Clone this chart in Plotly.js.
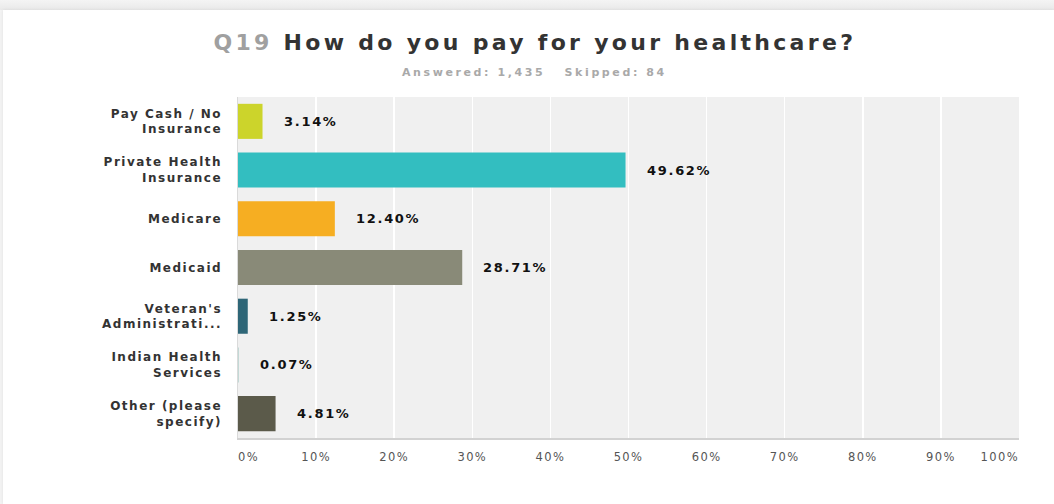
<!DOCTYPE html>
<html>
<head>
<meta charset="utf-8">
<script src="https://cdn.plot.ly/plotly-3.0.1.min.js"></script>
<style>
  html, body { margin: 0; padding: 0; }
  body { width: 1054px; height: 504px; background: linear-gradient(#f4f4f4, #e9e9e9 10px, #f3f3f3 10px); position: relative; overflow: hidden; }
  #card { position: absolute; left: 3px; top: 10px; width: 1051px; height: 494px; background: #fff; box-shadow: 0 0 3px rgba(0,0,0,0.08); }
  #chart { width: 1051px; height: 494px; }
  .ytick text { letter-spacing: 1.5px; }
  .xtick text, .x2tick text, .x3tick text { letter-spacing: 1.4px; }
  .gtitle { letter-spacing: 3.3px; }
  .annotation-text { letter-spacing: 1.7px; }
</style>
</head>
<body>
<div id="card"><div id="chart"></div></div>
<script>
const categories = [
  "Pay Cash / No<br>Insurance",
  "Private Health<br>Insurance",
  "Medicare",
  "Medicaid",
  "Veteran's<br>Administrati...",
  "Indian Health<br>Services",
  "Other (please<br>specify)"
];
const percentages = [3.14, 49.62, 12.40, 28.71, 1.25, 0.07, 4.81];
const barColors = ["#ccd42b", "#33bec0", "#f6ae22", "#898a78", "#2e6677", "#9fc6c0", "#5b5a4a"];
const innerTickValues = [10, 20, 30, 40, 50, 60, 70, 80, 90];
const innerTickLabels = ["10%", "20%", "30%", "40%", "50%", "60%", "70%", "80%", "90%"];
const firstTickValue = [0];
const firstTickLabel = ["0%"];
const lastTickValue = [100];
const lastTickLabel = ["100%"];
const titleQ = "Q19";
const titleText = "How do you pay for your healthcare?";
const subtitleText = "Answered: 1,435\u00a0\u00a0\u00a0Skipped: 84";

const trace = {
  type: "bar",
  orientation: "h",
  y: categories,
  x: percentages,
  marker: { color: barColors, line: { width: 0 } },
  hoverinfo: "none"
};
// empty helper traces so the overlaid end-tick axes are drawn
const helperA = { type: "scatter", mode: "markers", x: [], y: [], xaxis: "x2", yaxis: "y", hoverinfo: "none" };
const helperB = { type: "scatter", mode: "markers", x: [], y: [], xaxis: "x3", yaxis: "y", hoverinfo: "none" };

const annotations = percentages.map((v, i) => ({
  x: v, y: categories[i], xref: "x", yref: "y",
  text: v.toFixed(2) + "%",
  showarrow: false, xanchor: "left", yanchor: "middle", xshift: 19,
  font: { family: "DejaVu Sans", size: 13, color: "#111", weight: "bold" }
}));
annotations.push({
  xref: "paper", yref: "paper", x: 0.38, y: 1.073,
  text: "<span style='letter-spacing:2.6px'>" + subtitleText + "</span>",
  showarrow: false, xanchor: "center", yanchor: "middle",
  font: { family: "DejaVu Sans", size: 11, color: "#a9a9a9", weight: "bold" }
});

const tickFont = { family: "DejaVu Sans", size: 11.5, color: "#555555" };
const extraAxis = (vals, labels, pos) => ({
  overlaying: "x", anchor: "y", side: "bottom", range: [0, 100], fixedrange: true,
  tickvals: vals, ticktext: labels, ticklabelposition: pos,
  showgrid: false, zeroline: false, showline: false,
  ticks: "", ticklabelstandoff: 10, tickfont: tickFont
});

const layout = {
  width: 1051, height: 494,
  margin: { l: 235, r: 35, t: 87, b: 66 },
  paper_bgcolor: "#ffffff",
  plot_bgcolor: "#f0f0f0",
  showlegend: false,
  bargap: 0.28,
  title: {
    text: "<span style='color:#a0a0a0'>" + titleQ + "</span> " + titleText,
    font: { family: "DejaVu Sans", size: 22, color: "#333333", weight: "bold" },
    xref: "container", yref: "container", x: 0.506, y: 0.935,
    xanchor: "center", yanchor: "middle"
  },
  xaxis: {
    range: [0, 100], fixedrange: true,
    tickvals: innerTickValues, ticktext: innerTickLabels,
    showgrid: true, gridcolor: "#ffffff", gridwidth: 1.5,
    zeroline: false, showline: true, linecolor: "#d2d2d2", linewidth: 1.5,
    ticks: "", ticklabelstandoff: 8,
    tickfont: tickFont
  },
  xaxis2: extraAxis(firstTickValue, firstTickLabel, "outside right"),
  xaxis3: extraAxis(lastTickValue, lastTickLabel, "outside left"),
  yaxis: {
    autorange: "reversed", fixedrange: true,
    showgrid: false, zeroline: false, showline: true, linecolor: "#dadada", linewidth: 1.5,
    ticks: "", ticklabelstandoff: 12,
    tickfont: { family: "DejaVu Sans", size: 12, color: "#333333", weight: "bold" }
  },
  annotations: annotations
};

Plotly.newPlot("chart", [trace, helperA, helperB], layout, { displayModeBar: false, staticPlot: true });
</script>
</body>
</html>
